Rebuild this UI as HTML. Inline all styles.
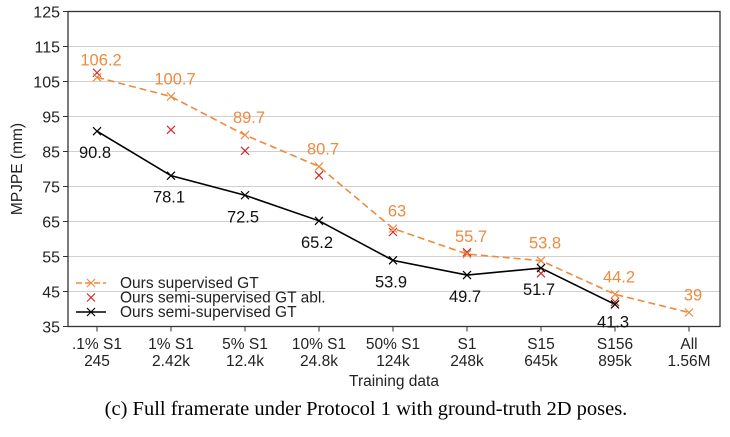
<!DOCTYPE html>
<html><head><meta charset="utf-8"><style>
body{margin:0;background:#fff;width:730px;height:432px;overflow:hidden}
svg text{font-family:"Liberation Sans",sans-serif}
</style></head><body>
<svg id="c" width="730" height="432"></svg>
<script>
const categories=[".1% S1|245","1% S1|2.42k","5% S1|12.4k","10% S1|24.8k","50% S1|124k","S1|248k","S15|645k","S156|895k","All|1.56M"];
const supervised=[106.2,100.7,89.7,80.7,63,55.7,53.8,44.2,39];
const ablation=[107.5,91.2,85.2,78.2,62.0,56.2,50.2,42.0];
const semi=[90.8,78.1,72.5,65.2,53.9,49.7,51.7,41.3];
const yTicks=[35,45,55,65,75,85,95,105,115,125];
const svg=document.getElementById('c');const NS='http://www.w3.org/2000/svg';
const L=68,R=720,T=11.5,B=326.5;
const x=i=>97+i*74;
const y=v=>B-(v-35)/(90)*(B-T);
function mk(t,a,p){const e=document.createElementNS(NS,t);for(const k in a)e.setAttribute(k,a[k]);(p||svg).appendChild(e);return e;}
yTicks.forEach(v=>{
 const g=mk('line',{x1:L,x2:R,y1:y(v),y2:y(v),stroke:'#d0d0d0','stroke-width':1});
 
 
 mk('line',{x1:L-5,x2:L,y1:y(v),y2:y(v),stroke:'#333'});
 const t=mk('text',{x:L-8,y:y(v)+6,'text-anchor':'end','font-size':16,fill:'#222'});t.textContent=v;
 
 
});
mk('rect',{x:L,y:T,width:R-L,height:B-T,fill:'none',stroke:'#333','stroke-width':1.3});
categories.forEach((c,i)=>{
 mk('line',{x1:x(i),x2:x(i),y1:B,y2:B+5,stroke:'#333'});
 const [a,b]=c.split('|');
 const t=mk('text',{x:x(i),y:349,'text-anchor':'middle','font-size':15.5,fill:'#222'});t.textContent=a;
 
 
 const t2=mk('text',{x:x(i),y:366,'text-anchor':'middle','font-size':15.5,fill:'#222'});t2.textContent=b;
 
 
});
function cross(cx,cy,col,name){const s=4;const g=mk('path',{d:`M${cx-s},${cy-s}L${cx+s},${cy+s}M${cx-s},${cy+s}L${cx+s},${cy-s}`,stroke:col,'stroke-width':1.2,fill:'none'});
 
 }
const pl=(arr,col,dash)=>{const p=mk('polyline',{points:arr.map((v,i)=>x(i)+','+y(v)).join(' '),fill:'none',stroke:col,'stroke-width':1.6,'stroke-dasharray':dash||'none'});return p;};
const p1=pl(supervised,'#ee8a3e','7,4');


const p2=pl(semi,'#000');


ablation.forEach((v,i)=>cross(x(i),y(v),'#d62728','ablation-point'));
supervised.forEach((v,i)=>{cross(x(i),y(v),'#ee8a3e','supervised-point');
 const t=mk('text',{x:x(i)+4,y:y(v)-12,'text-anchor':'middle','font-size':16.5,fill:'#ee8a3e'});t.textContent=v;
 
 });
semi.forEach((v,i)=>{cross(x(i),y(v),'#000','semi-supervised-point');
 const t=mk('text',{x:x(i)-2,y:y(v)+(i==7?23:27),'text-anchor':'middle','font-size':16.5,fill:'#111'});t.textContent=v;
 
 });
const lg=[['Ours supervised GT','#ee8a3e','6,3',1],['Ours semi-supervised GT abl.','#d62728','',0],['Ours semi-supervised GT','#000','',1]];
lg.forEach((e,k)=>{const yy=283+k*14.5;
 if(e[3])mk('line',{x1:76,x2:106,y1:yy,y2:yy,stroke:e[1],'stroke-width':1.6,'stroke-dasharray':e[2]||'none'});
 cross(91,yy,e[1],'legend-marker');
 const t=mk('text',{x:120,y:yy+5,'font-size':15.5,fill:'#222'});t.textContent=e[0];
 
 });
const xt=mk('text',{x:394,y:386,'text-anchor':'middle','font-size':15.5,fill:'#222'});xt.textContent='Training data';


const yt=mk('text',{x:0,y:0,'text-anchor':'middle','font-size':15.5,fill:'#222',transform:'translate(22,169) rotate(-90)'});yt.textContent='MPJPE (mm)';


const cp=mk('text',{x:366,y:415,'text-anchor':'middle','font-size':20.5,fill:'#000','style':'font-family:"Liberation Serif",serif'});cp.textContent='(c) Full framerate under Protocol 1 with ground-truth 2D poses.';


</script>
</body></html>
